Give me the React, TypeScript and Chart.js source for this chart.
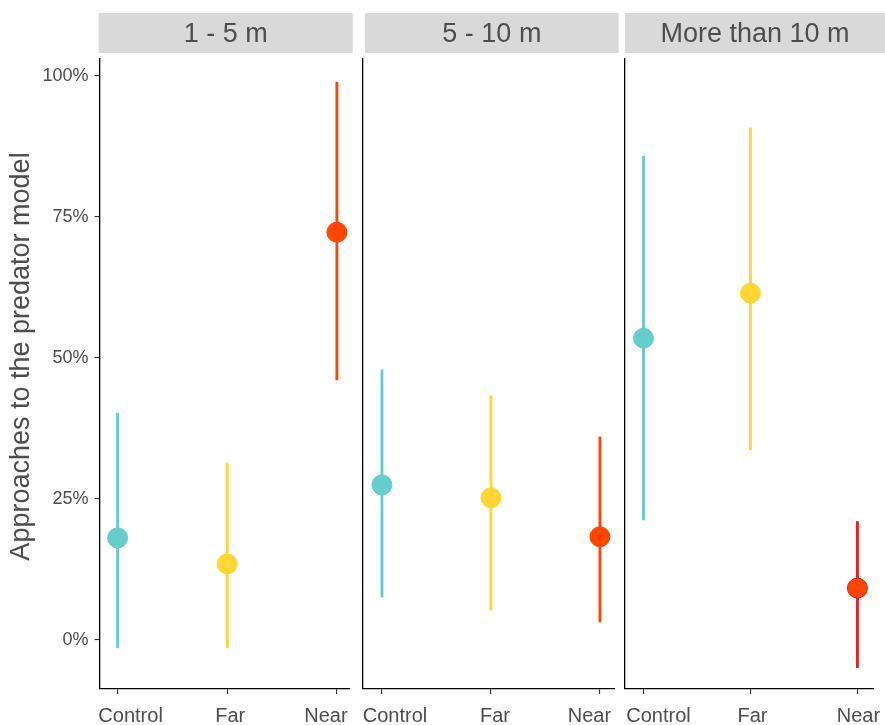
import React, { useEffect, useRef } from "react";
import { Chart, registerables } from "chart.js";
Chart.register(...registerables);

// ---- data ----
const categories = ["Control", "Far", "Near"];
const panelTitles = ["1 - 5 m", "5 - 10 m", "More than 10 m"];
const yTickValues = [0, 25, 50, 75, 100];
const yTitle = "Approaches to the predator model";

const estimate1 = [18.1, 13.5, 72.3];
const lower1 = [-1.4, -1.4, 46.1];
const upper1 = [40.2, 31.4, 98.9];

const estimate2 = [27.5, 25.2, 18.3];
const lower2 = [7.6, 5.3, 3.2];
const upper2 = [47.9, 43.3, 36.0];

const estimate3 = [53.5, 61.5, 9.2];
const lower3 = [21.3, 33.7, -4.9];
const upper3 = [85.8, 90.8, 21.0];

// ---- styles ----
const FONT = '"Liberation Sans", Arial, Helvetica, sans-serif';
const TEXT = "#4D4D4D";
const pointColors = ["#66CDCD", "#FFD632", "#FF4500"];
const redBar = "#EE1C22";

const H = 725;
const AREA_TOP = 58.5;
const AREA_BOTTOM = 689;

type PanelProps = {
  idx: number;
  left: number;
  width: number;
  areaLeft: number;
  areaRight: number;
  stripLeft: number;
  stripRight: number;
  xMin: number;
  xMax: number;
  labelShift: number[];
  showY: boolean;
  est: number[];
  lo: number[];
  hi: number[];
  barColors: string[];
  pointBorders: string[];
};

function Panel(p: PanelProps) {
  const ref = useRef<HTMLCanvasElement>(null);
  useEffect(() => {
    if (!ref.current) return;
    const stripPlugin = {
      id: "strip" + p.idx,
      afterDraw(chart: any) {
        const ctx = chart.ctx as CanvasRenderingContext2D;
        ctx.save();
        // facet strip
        ctx.fillStyle = "#D9D9D9";
        ctx.fillRect(p.stripLeft - p.left, 13, p.stripRight - p.stripLeft, 40);
        ctx.fillStyle = TEXT;
        ctx.font = "27px " + FONT;
        ctx.textAlign = "center";
        ctx.textBaseline = "middle";
        ctx.fillText(panelTitles[p.idx], (p.stripLeft + p.stripRight) / 2 - p.left, 35);
        // category labels under the x axis ticks
        const xs = chart.scales.x;
        ctx.font = "20px " + FONT;
        ctx.textBaseline = "alphabetic";
        categories.forEach((c, i) => {
          ctx.fillText(c, xs.getPixelForValue(i) + p.labelShift[i], 722);
        });
        // y axis title
        if (p.showY) {
          ctx.translate(22, 356.5);
          ctx.rotate(-Math.PI / 2);
          ctx.font = "27px " + FONT;
          ctx.textBaseline = "middle";
          ctx.fillText(yTitle, 0, 0);
        }
        ctx.restore();
      },
    };
    const chart = new Chart(ref.current, {
      type: "bar",
      data: {
        datasets: [
          {
            type: "line",
            data: p.est.map((v, i) => ({ x: i, y: v })),
            showLine: false,
            pointRadius: 10,
            pointHoverRadius: 10,
            pointBackgroundColor: pointColors,
            pointBorderColor: p.pointBorders,
            pointBorderWidth: 1,
            order: 0,
            clip: false,
          } as any,
          {
            type: "bar",
            data: p.lo.map((v, i) => ({ x: i, y: [v, p.hi[i]] })),
            backgroundColor: p.barColors,
            borderWidth: 0,
            barThickness: 2.2,
            order: 1,
            clip: false,
          } as any,
        ],
      },
      options: {
        responsive: false,
        animation: false,
        events: [],
        layout: {
          padding: {
            left: 0,
            top: AREA_TOP,
            right: p.width - (p.areaRight - p.left),
            bottom: 0,
          },
        },
        plugins: {
          legend: { display: false },
          tooltip: { enabled: false },
        },
        scales: {
          x: {
            type: "linear",
            offset: false,
            min: p.xMin,
            max: p.xMax,
            afterBuildTicks(s: any) {
              s.ticks = [0, 1, 2].map((v) => ({ value: v }));
            },
            afterFit(s: any) {
              s.height = H - AREA_BOTTOM;
              s.paddingLeft = 0;
              s.paddingRight = 0;
            },
            ticks: {
              display: false,
              callback: (v: any) => categories[Number(v)] ?? "",
            },
            grid: {
              offset: false,
              drawOnChartArea: false,
              drawTicks: true,
              tickLength: 5,
              color: "#333333",
              lineWidth: 1.1,
            },
            border: { display: true, color: "#000000", width: 1.3 },
          },
          y: {
            type: "linear",
            min: -8.69,
            max: 103.1,
            afterBuildTicks(s: any) {
              s.ticks = yTickValues.map((v) => ({ value: v }));
            },
            afterFit(s: any) {
              s.width = p.areaLeft - p.left;
              s.paddingTop = 0;
              s.paddingBottom = 0;
            },
            ticks: {
              display: p.showY,
              callback: (v: any) => v + "%",
              font: { size: 18, family: FONT },
              color: TEXT,
              padding: 6,
            },
            grid: {
              drawOnChartArea: false,
              drawTicks: p.showY,
              tickLength: 5,
              color: "#333333",
              lineWidth: 1.1,
            },
            border: { display: true, color: "#000000", width: 1.3 },
          },
        },
      } as any,
      plugins: [stripPlugin],
    });
    return () => chart.destroy();
  }, []);
  return (
    <canvas
      ref={ref}
      width={p.width}
      height={H}
      style={{ position: "absolute", left: p.left, top: 0, width: p.width, height: H }}
    />
  );
}

export default function App() {
  const same = pointColors;
  return (
    <div
      style={{
        position: "fixed",
        left: 0,
        top: 0,
        width: 885,
        height: 725,
        background: "#ffffff",
        overflow: "hidden",
      }}
    >
      <Panel
        idx={0}
        left={0}
        width={370}
        areaLeft={99.5}
        areaRight={349.5}
        stripLeft={98.7}
        stripRight={352.7}
        xMin={-0.165}
        xMax={2.115}
        labelShift={[13, 3, -11]}
        showY={true}
        est={estimate1}
        lo={lower1}
        hi={upper1}
        barColors={same}
        pointBorders={same}
      />
      <Panel
        idx={1}
        left={340}
        width={290}
        areaLeft={363}
        areaRight={615}
        stripLeft={365}
        stripRight={618.7}
        xMin={-0.174}
        xMax={2.138}
        labelShift={[13, 4, -10.5]}
        showY={false}
        est={estimate2}
        lo={lower2}
        hi={upper2}
        barColors={same}
        pointBorders={same}
      />
      <Panel
        idx={2}
        left={600}
        width={285}
        areaLeft={625}
        areaRight={881}
        stripLeft={625}
        stripRight={885}
        xMin={-0.173}
        xMax={2.155}
        labelShift={[15, 2, 1]}
        showY={false}
        est={estimate3}
        lo={lower3}
        hi={upper3}
        barColors={[pointColors[0], pointColors[1], redBar]}
        pointBorders={[pointColors[0], pointColors[1], redBar]}
      />
    </div>
  );
}
